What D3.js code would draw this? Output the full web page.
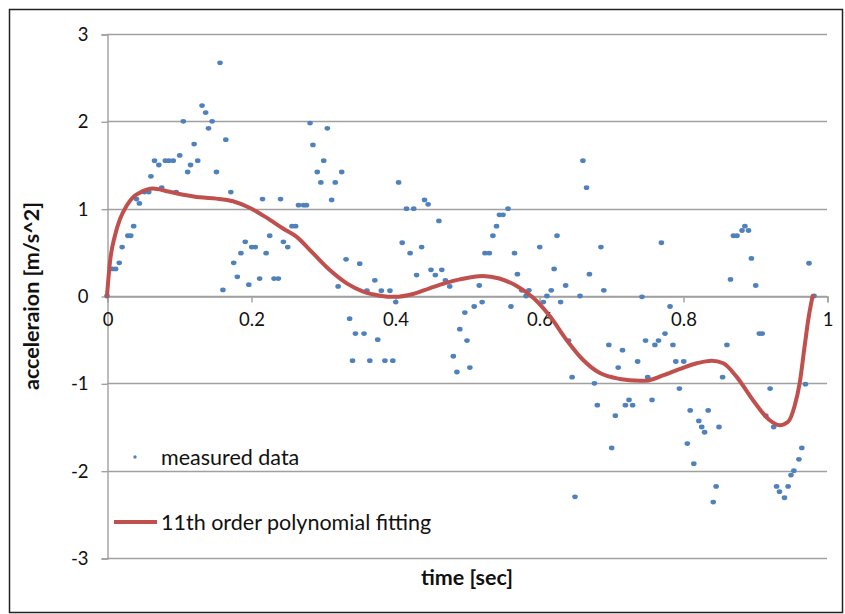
<!DOCTYPE html>
<html>
<head>
<meta charset="utf-8">
<script src="https://cdn.jsdelivr.net/npm/d3@7/dist/d3.min.js"></script>
<style>
  html, body { margin: 0; padding: 0; background: #fff; }
  svg { display: block; font-family: Lato, "Open Sans", sans-serif; }
</style>
</head>
<body>
<svg id="chart" width="845" height="614"></svg>
<script>
// Measured acceleration samples: time [s] and acceleration [m/s^2]
const sampleTime = [
  0, 0.0075, 0.012, 0.017, 0.021, 0.029, 0.033, 0.037, 0.041, 0.045,
  0.052, 0.058, 0.061, 0.066, 0.072, 0.076, 0.081, 0.086, 0.092, 0.096,
  0.101, 0.106, 0.112, 0.116, 0.121, 0.126, 0.132, 0.137, 0.141, 0.146,
  0.152, 0.157, 0.161, 0.165, 0.172, 0.176, 0.181, 0.186, 0.192, 0.197,
  0.201, 0.206, 0.212, 0.216, 0.221, 0.226, 0.232, 0.238, 0.241, 0.245,
  0.251, 0.257, 0.262, 0.266, 0.273, 0.277, 0.282, 0.286, 0.292, 0.297,
  0.301, 0.306, 0.312, 0.317, 0.321, 0.326, 0.332, 0.337, 0.341, 0.345,
  0.351, 0.357, 0.361, 0.365, 0.372, 0.376, 0.381, 0.386, 0.393, 0.397,
  0.401, 0.405, 0.410, 0.416, 0.421, 0.426, 0.430, 0.437, 0.441, 0.446,
  0.450, 0.456, 0.461, 0.465, 0.470, 0.476, 0.481, 0.486, 0.490, 0.497,
  0.500, 0.504, 0.510, 0.517, 0.521, 0.525, 0.531, 0.536, 0.541, 0.545,
  0.550, 0.557, 0.561, 0.566, 0.570, 0.576, 0.582, 0.586, 0.601, 0.606,
  0.611, 0.617, 0.621, 0.625, 0.630, 0.637, 0.641, 0.646, 0.650, 0.657,
  0.661, 0.666, 0.670, 0.677, 0.681, 0.686, 0.690, 0.697, 0.701, 0.706,
  0.710, 0.716, 0.720, 0.725, 0.730, 0.737, 0.743, 0.748, 0.751, 0.757,
  0.761, 0.766, 0.770, 0.775, 0.782, 0.786, 0.790, 0.795, 0.801, 0.806,
  0.810, 0.815, 0.822, 0.826, 0.830, 0.835, 0.842, 0.846, 0.850, 0.855,
  0.861, 0.866, 0.870, 0.875, 0.882, 0.886, 0.891, 0.895, 0.901, 0.906,
  0.910, 0.915, 0.921, 0.926, 0.930, 0.934, 0.941, 0.946, 0.950, 0.954,
  0.961, 0.965, 0.970, 0.975, 0.982
];
const sampleAccel = [
  0, 0.31, 0.31, 0.38, 0.56, 0.69, 0.69, 0.80, 1.11, 1.06,
  1.19, 1.19, 1.37, 1.55, 1.50, 1.24, 1.55, 1.55, 1.55, 1.19,
  1.61, 2.00, 1.42, 1.50, 1.74, 1.55, 2.18, 2.10, 1.92, 2.00,
  1.42, 2.67, 0.07, 1.79, 1.19, 0.38, 0.22, 0.49, 0.62, 0.13,
  0.56, 0.56, 0.20, 1.11, 0.49, 0.69, 0.20, 0.20, 1.11, 0.62,
  0.56, 0.80, 0.80, 1.04, 1.04, 1.04, 1.98, 1.73, 1.42, 1.30,
  1.55, 1.92, 1.10, 1.30, 0.11, 1.42, 0.42, -0.26, -0.74, -0.43,
  0.37, -0.43, 0.06, -0.74, 0.18, -0.50, 0.06, -0.74, 0.06, -0.74,
  -0.07, 1.30, 0.61, 1.00, 0.49, 1.00, 0.24, 0.56, 1.10, 1.05,
  0.30, 0.24, 0.86, 0.30, 0.18, 0.11, -0.69, -0.87, -0.38, -0.19,
  -0.51, -0.82, -0.12, 0.12, -0.07, 0.49, 0.49, 0.69, 0.80, 0.93,
  0.93, 1.00, -0.12, 0.49, 0.25, 0.065, 0.0, 0.065, 0.56, -0.07,
  0.0, 0.065, 0.31, 0.69, -0.07, 0.12, -0.51, -0.93, -2.30, 0.0,
  1.55, 1.24, 0.25, -1.00, -1.25, 0.56, 0.065, -0.56, -1.74, -1.37,
  -0.82, -0.62, -1.25, -1.19, -1.25, -0.75, -0.01, -0.51, -0.93, -1.19,
  -0.56, -0.51, 0.61, -0.43, -0.12, -0.56, -0.75, -1.06, -0.75, -1.69,
  -1.31, -1.92, -1.43, -1.50, -1.56, -1.31, -2.36, -2.18, -1.50, -0.93,
  -0.56, 0.19, 0.69, 0.69, 0.75, 0.80, 0.75, 0.43, 0.12, -0.43,
  -0.43, -1.37, -1.06, -1.50, -2.18, -2.24, -2.31, -2.18, -2.05, -2.00,
  -1.87, -1.74, -1.01, 0.375, 0.0
];

// 11th order polynomial fit, sampled along time
const fitTime = [
  0, 0.004, 0.011, 0.018, 0.027, 0.036, 0.045, 0.064, 0.083, 0.106,
  0.129, 0.152, 0.175, 0.198, 0.221, 0.245, 0.263, 0.286, 0.309, 0.333,
  0.356, 0.379, 0.400, 0.425, 0.448, 0.471, 0.490, 0.522, 0.545, 0.569,
  0.592, 0.615, 0.638, 0.661, 0.684, 0.712, 0.740, 0.749, 0.772, 0.796,
  0.819, 0.840, 0.856, 0.874, 0.897, 0.920, 0.934, 0.946, 0.955, 0.962,
  0.969, 0.974, 0.980
];
const fitAccel = [
  0, 0.38, 0.69, 0.88, 1.03, 1.13, 1.18, 1.23, 1.20, 1.16,
  1.13, 1.115, 1.085, 1.01, 0.90, 0.77, 0.68, 0.49, 0.30, 0.145,
  0.05, 0.004, -0.01, 0.023, 0.088, 0.15, 0.19, 0.23, 0.20, 0.115,
  -0.02, -0.23, -0.50, -0.73, -0.88, -0.95, -0.97, -0.97, -0.91, -0.835,
  -0.77, -0.74, -0.77, -0.92, -1.19, -1.42, -1.48, -1.44, -1.26, -1.00,
  -0.57, -0.27, 0
];

// Axis ticks
const xTicks = [0, 0.2, 0.4, 0.6, 0.8, 1];
const xTickLabels = ["0", "0.2", "0.4", "0.6", "0.8", "1"];
const yTicks = [-3, -2, -1, 0, 1, 2, 3];
const yTickLabels = ["-3", "-2", "-1", "0", "1", "2", "3"];

const seriesNames = ["measured data", "11th order polynomial fitting"];
const xTitle = "time [sec]";
const yTitle = "acceleraion [m/s^2]";

const blue = "#4f81bd";
const red = "#c0504d";
const gridColor = "#a0a0a0";
const textColor = "#111";

const svg = d3.select("#chart");

// outer frame
svg.append("rect")
  .attr("x", 9.5).attr("y", 9.5)
  .attr("width", 833).attr("height", 603)
  .attr("fill", "#fff")
  .attr("stroke", "#222").attr("stroke-width", 1.5);

const plot = { left: 107, right: 827, top: 34, bottom: 558 };

const x = d3.scaleLinear().domain([0, 1]).range([plot.left, plot.right]);
const y = d3.scaleLinear().domain([-3, 3]).range([plot.bottom, plot.top]);

// horizontal gridlines
svg.append("g")
  .selectAll("line")
  .data(yTicks)
  .join("line")
  .attr("x1", plot.left).attr("x2", plot.right)
  .attr("y1", d => Math.round(y(d)) + 0.5).attr("y2", d => Math.round(y(d)) + 0.5)
  .attr("stroke", gridColor).attr("stroke-width", 1.4);

// y axis
const yAxis = d3.axisLeft(y)
  .tickValues(yTicks)
  .tickSize(6)
  .tickPadding(13)
  .tickFormat((d, i) => yTickLabels[i]);
const gy = svg.append("g")
  .attr("transform", `translate(${plot.left + 0.5},0.5)`)
  .call(yAxis);
gy.select(".domain").attr("stroke", gridColor).attr("stroke-width", 1.4);
gy.selectAll(".tick line").attr("stroke", gridColor).attr("stroke-width", 1.4);
gy.selectAll(".tick text")
  .attr("fill", textColor)
  .style("font-size", "18.5px")
  .style("font-family", "Lato, sans-serif");

// x axis at zero
const xAxis = d3.axisBottom(x)
  .tickValues(xTicks)
  .tickSize(6)
  .tickPadding(10)
  .tickFormat((d, i) => xTickLabels[i]);
const gx = svg.append("g")
  .attr("transform", `translate(0.5,${Math.round(y(0)) + 0.5})`)
  .call(xAxis);
gx.select(".domain").attr("stroke", gridColor).attr("stroke-width", 1.4);
gx.selectAll(".tick line").attr("stroke", gridColor).attr("stroke-width", 1.4);
gx.selectAll(".tick text")
  .attr("fill", textColor)
  .style("font-size", "18.5px")
  .style("font-family", "Lato, sans-serif");

// measured points
const samples = sampleTime.map((t, i) => ({ t, a: sampleAccel[i] }));
svg.append("g")
  .selectAll("ellipse")
  .data(samples)
  .join("ellipse")
  .attr("cx", d => x(d.t))
  .attr("cy", d => y(d.a))
  .attr("rx", 2.8).attr("ry", 2.4)
  .attr("fill", blue);

// polynomial fit
const fit = fitTime.map((t, i) => ({ t, a: fitAccel[i] }));
const line = d3.line()
  .x(d => x(d.t))
  .y(d => y(d.a))
  .curve(d3.curveMonotoneX);
svg.append("path")
  .datum(fit)
  .attr("d", line)
  .attr("fill", "none")
  .attr("stroke", red)
  .attr("stroke-width", 4)
  .attr("stroke-linejoin", "round")
  .attr("stroke-linecap", "round");

// legend
const legend = svg.append("g").style("font-size", "21.5px").attr("fill", textColor);
legend.append("circle").attr("cx", 135).attr("cy", 457).attr("r", 1.7).attr("fill", blue);
legend.append("text").attr("x", 161).attr("y", 457).attr("dy", "0.35em").text(seriesNames[0]);
legend.append("line")
  .attr("x1", 114).attr("x2", 157).attr("y1", 522).attr("y2", 522)
  .attr("stroke", red).attr("stroke-width", 4);
legend.append("text").attr("x", 161).attr("y", 522).attr("dy", "0.35em").text(seriesNames[1]);

// axis titles
svg.append("text")
  .attr("x", (plot.left + plot.right) / 2)
  .attr("y", 577).attr("dy", "0.35em")
  .attr("text-anchor", "middle")
  .style("font-size", "21.5px").style("font-weight", "bold")
  .attr("fill", textColor)
  .text(xTitle);

svg.append("text")
  .attr("transform", `translate(31,${(plot.top + plot.bottom) / 2}) rotate(-90)`)
  .attr("dy", "0.35em")
  .attr("text-anchor", "middle")
  .style("font-size", "21.5px").style("font-weight", "bold")
  .attr("fill", textColor)
  .text(yTitle);
</script>
</body>
</html>
